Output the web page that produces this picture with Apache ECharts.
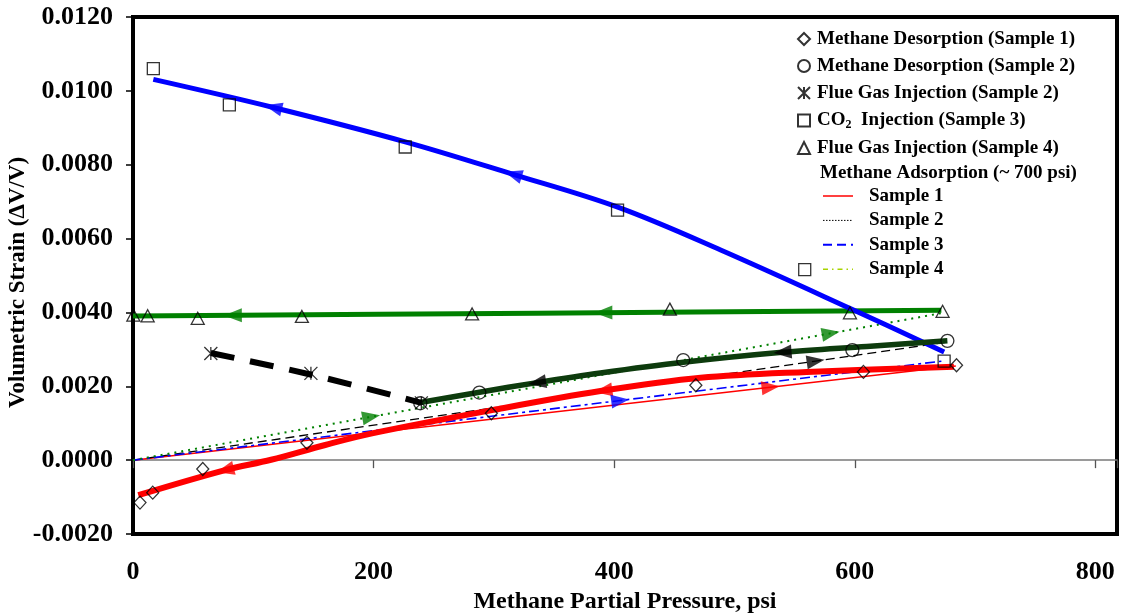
<!DOCTYPE html>
<html>
<head>
<meta charset="utf-8">
<title>Volumetric strain vs methane partial pressure</title>
<script src="https://cdn.jsdelivr.net/npm/echarts@6/dist/echarts.min.js"></script>
<style>
  html, body { margin: 0; padding: 0; background: #fff; }
  #chart { width: 1122px; height: 615px; }
</style>
</head>
<body>
<div id="chart"></div>
<script>
// ---------- axis ticks ----------
const xTickValues = [0, 200, 400, 600, 800];
const xTickLabels = ['0', '200', '400', '600', '800'];
const yTickValues = [-0.002, 0, 0.002, 0.004, 0.006, 0.008, 0.010, 0.012];
const yTickLabels = ['-0.0020', '0.0000', '0.0020', '0.0040', '0.0060', '0.0080', '0.0100', '0.0120'];

// ---------- measured points [pressure (psi), volumetric strain] ----------
const desorptionS1 = [[5.8, -0.00115], [16.4, -0.00088], [58, -0.00024], [144.6, 0.00047],
  [297.9, 0.00127], [467.9, 0.00203], [607.2, 0.00239], [684.6, 0.00257]];
const desorptionS2 = [[238.8, 0.00154], [287.9, 0.00183], [457.4, 0.00271], [598, 0.00298], [677, 0.00323]];
const flueGasS2 = [[64.7, 0.00289], [147.9, 0.00235], [239.7, 0.00155]];
const co2InjS3 = [[16.9, 0.0106], [80.1, 0.00962], [226.3, 0.00848], [402.8, 0.00677],
  [558.4, 0.00516], [674.3, 0.00268]];
const flueGasS4 = [[0.3, 0.00393], [12.2, 0.00391], [53.8, 0.00384], [140.4, 0.00389],
  [281.9, 0.00396], [446.3, 0.00409], [596, 0.00399], [673, 0.00403]];

// ---------- trend curves through each test ----------
const desorptionS1Trend = [[4.4, -0.00095], [76.6, -0.00027], [114.8, 0.00001], [159.8, 0.00041],
  [199.7, 0.00073], [299.6, 0.00136], [388.6, 0.00187], [471.8, 0.00223], [560, 0.00239], [682.4, 0.00253]];
const desorptionS2Trend = [[238.8, 0.00156], [288, 0.00184], [336, 0.00210], [388.6, 0.00236],
  [457.4, 0.00265], [539.8, 0.00292], [610, 0.00308], [677, 0.00323]];
const flueGasS2Trend = [[64.7, 0.0029], [150, 0.0023], [239.7, 0.00155]];
const co2InjS3Trend = [[16.9, 0.01031], [116.7, 0.00955], [226.3, 0.00862], [316, 0.00774],
  [403, 0.00685], [488.5, 0.00569], [596.7, 0.0041], [674.3, 0.00293]];
const flueGasS4Trend = [[0, 0.00390], [336, 0.00398], [672, 0.00406]];

// ---------- methane adsorption up to ~700 psi ----------
const adsorptionS1 = [[0, 0], [684, 0.00255]];
const adsorptionS2 = [[0, 0], [677, 0.0032]];
const adsorptionS3 = [[0, 0], [672, 0.00268]];
const adsorptionS4 = [[0, 0], [672, 0.00398]];

// ---------- direction arrows: pressures (psi) along each curve ----------
const arrowsDesS1 = [76.6, 391];
const arrowsAdsS1 = [530];
const arrowsCo2S3 = [116.5, 316];
const arrowsAdsS3 = [405];
const arrowsFlueS4 = [83, 391];
const arrowsAdsS4 = [198, 580];
const arrowsDesS2 = [336, 540];
const arrowsAdsS2 = [567.5];

const FONT = '"Liberation Serif", "Times New Roman", serif';
const RED = '#ff0000', BLUE = '#0000ff', GREEN = '#008000', DKGREEN = '#0d3b0d', BLACK = '#000000';

function interp(curve, x) {
  for (let i = 0; i < curve.length - 1; i++) {
    const a = curve[i], b = curve[i + 1];
    if (x >= a[0] && x <= b[0]) return a[1] + (b[1] - a[1]) * (x - a[0]) / (b[0] - a[0]);
  }
  return x < curve[0][0] ? curve[0][1] : curve[curve.length - 1][1];
}

const arrowSets = [
  { curve: desorptionS1Trend, at: arrowsDesS1, dir: -1, color: RED },
  { curve: adsorptionS1, at: arrowsAdsS1, dir: 1, color: RED },
  { curve: co2InjS3Trend, at: arrowsCo2S3, dir: -1, color: BLUE },
  { curve: adsorptionS3, at: arrowsAdsS3, dir: 1, color: BLUE },
  { curve: flueGasS4Trend, at: arrowsFlueS4, dir: -1, color: GREEN },
  { curve: adsorptionS4, at: arrowsAdsS4, dir: 1, color: GREEN },
  { curve: desorptionS2Trend, at: arrowsDesS2, dir: -1, color: BLACK },
  { curve: adsorptionS2, at: arrowsAdsS2, dir: 1, color: BLACK }
];

const ASTERISK = 'path://M0,0L12,12M12,0L0,12M6,0L6,12';

function markerSeries(name, data, symbol, size) {
  return {
    name, type: 'scatter', data, symbol, symbolSize: size, z: 6,
    itemStyle: { color: 'rgba(255,255,255,0)', borderColor: BLACK, borderWidth: 1.3 },
    emphasis: { disabled: true }
  };
}
function trendSeries(data, color, width, type) {
  return {
    type: 'line', data, showSymbol: false, symbol: 'none', z: 4, smooth: 0.35,
    lineStyle: { color, width, type: type || 'solid', cap: 'butt' },
    emphasis: { disabled: true }
  };
}
function adsorptionSeries(name, data, color, width, type) {
  return {
    name, type: 'line', data, showSymbol: false, symbol: 'none', z: 3,
    itemStyle: { color },
    lineStyle: { color, width, type },
    emphasis: { disabled: true }
  };
}

const chart = echarts.init(document.getElementById('chart'), null, { renderer: 'canvas' });

const hiddenDot = { opacity: 0, color: 'rgba(0,0,0,0)', borderWidth: 0 };

function buildOption(rotationOf) {
  const arrowSeries = arrowSets.map(set => ({
    type: 'scatter', z: 7, symbol: 'triangle', symbolSize: [14, 18],
    itemStyle: { color: set.color },
    emphasis: { disabled: true },
    data: set.at.map(x => ({ value: [x, interp(set.curve, x)], symbolRotate: rotationOf(set, x) }))
  }));

  return {
    animation: false,
    backgroundColor: '#ffffff',
    textStyle: { fontFamily: FONT },
    grid: {
      left: 133, right: 5, top: 17, bottom: 81,
      containLabel: false, outerBoundsMode: 'none',
      show: true, borderColor: BLACK, borderWidth: 4, backgroundColor: '#ffffff'
    },
    title: {
      text: 'Methane Adsorption (~ 700 psi)',
      left: 820, top: 163, padding: 0,
      textStyle: { fontFamily: FONT, fontWeight: 'bold', fontSize: 19, color: BLACK, lineHeight: 20 }
    },
    legend: [
      {
        orient: 'vertical', left: 797, top: 29, padding: 0,
        itemWidth: 12, itemHeight: 12, itemGap: 7, selectedMode: false,
        data: ['Methane Desorption (Sample 1)', 'Methane Desorption (Sample 2)',
          'Flue Gas Injection (Sample 2)', 'CO2 Injection (Sample 3)', 'Flue Gas Injection (Sample 4)'],
        formatter: name => name === 'CO2 Injection (Sample 3)'
          ? '{n|CO}{s|2}{n|  Injection (Sample 3)}' : name,
        textStyle: {
          fontFamily: FONT, fontWeight: 'bold', fontSize: 19, color: BLACK, lineHeight: 20,
          padding: [0, 0, 0, 2],
          rich: {
            n: { fontFamily: FONT, fontWeight: 'bold', fontSize: 19, color: BLACK, lineHeight: 20 },
            s: { fontFamily: FONT, fontWeight: 'bold', fontSize: 12, color: BLACK, lineHeight: 20, padding: [9, 0, 0, 0] }
          }
        }
      },
      {
        orient: 'vertical', left: 822, top: 186, padding: 0,
        itemWidth: 30, itemHeight: 10, itemGap: 4.4, selectedMode: false,
        data: [
          { name: 'Sample 1', itemStyle: hiddenDot, lineStyle: { color: RED, type: 'solid', width: 1.5 } },
          { name: 'Sample 2', itemStyle: hiddenDot, lineStyle: { color: BLACK, type: [1.5, 1.5], width: 1 } },
          { name: 'Sample 3', itemStyle: hiddenDot, lineStyle: { color: BLUE, type: [9, 5], width: 2 } },
          { name: 'Sample 4', itemStyle: hiddenDot, lineStyle: { color: '#a8d400', type: [5, 4, 1.5, 4], width: 1.5 } }
        ],
        textStyle: { fontFamily: FONT, fontWeight: 'bold', fontSize: 19, color: BLACK, lineHeight: 20, padding: [0, 0, 0, 11] }
      }
    ],
    xAxis: [
      {
        type: 'value', min: 0, max: 818, interval: 200, position: 'bottom',
        axisLine: { show: true, onZero: true, lineStyle: { color: '#7a7a7a', width: 1.5 } },
        axisTick: { show: true, length: 8, lineStyle: { color: '#555', width: 1.3 } },
        axisLabel: { show: false },
        splitLine: { show: false }
      },
      {
        type: 'value', min: 0, max: 818, interval: 200, position: 'bottom',
        axisLine: { show: false, onZero: false },
        axisTick: { show: false },
        splitLine: { show: false },
        axisLabel: {
          margin: 25, color: BLACK, fontFamily: FONT, fontWeight: 'bold', fontSize: 26,
          formatter: v => { const i = xTickValues.indexOf(v); return i >= 0 ? xTickLabels[i] : ''; }
        },
        name: 'Methane Partial Pressure, psi', nameLocation: 'middle', nameGap: 56, nameMoveOverlap: false,
        nameTextStyle: { color: BLACK, fontFamily: FONT, fontWeight: 'bold', fontSize: 24 }
      }
    ],
    yAxis: {
      type: 'value', min: -0.002, max: 0.012, interval: 0.002,
      axisLine: { show: false },
      axisTick: { show: true, inside: false, length: 7, lineStyle: { color: BLACK, width: 1.5 } },
      splitLine: { show: false },
      axisLabel: {
        margin: 20, color: BLACK, fontFamily: FONT, fontWeight: 'bold', fontSize: 26,
        formatter: v => {
          const i = yTickValues.findIndex(t => Math.abs(t - v) < 1e-9);
          return i >= 0 ? yTickLabels[i] : '';
        }
      },
      name: 'Volumetric Strain (ΔV/V)', nameLocation: 'middle', nameGap: 103, nameMoveOverlap: false,
      nameTextStyle: { color: BLACK, fontFamily: FONT, fontWeight: 'bold', fontSize: 23, padding: [0, 14, 0, 0] }
    },
    series: [
      adsorptionSeries('Sample 1', adsorptionS1, RED, 1.5, 'solid'),
      adsorptionSeries('Sample 2', adsorptionS2, BLACK, 1.3, [9, 5]),
      adsorptionSeries('Sample 3', adsorptionS3, BLUE, 1.6, [10, 4, 3, 4]),
      adsorptionSeries('Sample 4', adsorptionS4, GREEN, 2, [2, 5]),
      trendSeries(flueGasS4Trend, GREEN, 5),
      trendSeries(co2InjS3Trend, BLUE, 5),
      trendSeries(desorptionS2Trend, DKGREEN, 5.5),
      trendSeries(flueGasS2Trend, BLACK, 6, [24, 16]),
      trendSeries(desorptionS1Trend, RED, 6),
      markerSeries('Methane Desorption (Sample 1)', desorptionS1, 'diamond', [12, 13]),
      markerSeries('Methane Desorption (Sample 2)', desorptionS2, 'circle', 13),
      markerSeries('Flue Gas Injection (Sample 2)', flueGasS2, ASTERISK, 13),
      markerSeries('CO2 Injection (Sample 3)', co2InjS3, 'rect', 12),
      markerSeries('Flue Gas Injection (Sample 4)', flueGasS4, 'triangle', [13, 12])
    ].concat(arrowSeries)
  };
}

chart.setOption(buildOption(() => 0));

// orient each arrow along its curve in screen space
function rotationOf(set, x) {
  const h = 4;
  const p1 = chart.convertToPixel({ xAxisIndex: 0, yAxisIndex: 0 }, [x - h, interp(set.curve, x - h)]);
  const p2 = chart.convertToPixel({ xAxisIndex: 0, yAxisIndex: 0 }, [x + h, interp(set.curve, x + h)]);
  const dx = (p2[0] - p1[0]) * set.dir, dy = (p2[1] - p1[1]) * set.dir;
  return Math.atan2(-dy, dx) * 180 / Math.PI - 90;
}
chart.setOption(buildOption(rotationOf), true);
</script>
</body>
</html>
